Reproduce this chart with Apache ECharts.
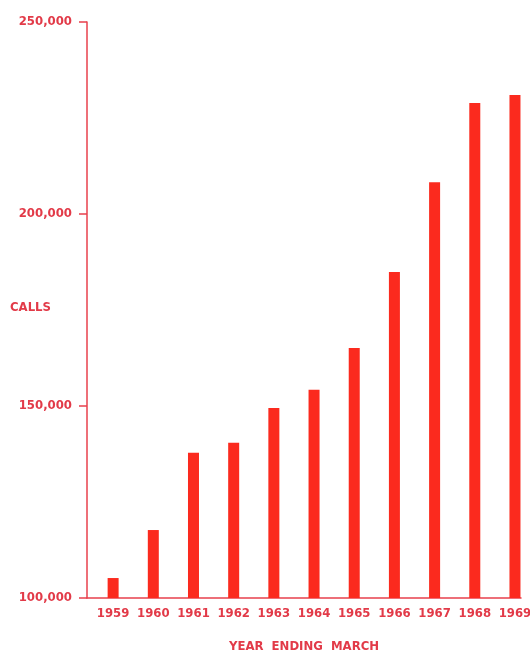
<!DOCTYPE html>
<html>
<head>
<meta charset="utf-8">
<script src="https://cdn.jsdelivr.net/npm/echarts@6/dist/echarts.min.js"></script>
<style>html,body{margin:0;padding:0;background:#fff}#c{width:530px;height:654px}</style>
</head>
<body>
<div id="c"></div>
<script>
var years = [1959,1960,1961,1962,1963,1964,1965,1966,1967,1968,1969];
var calls = [105200,117700,137800,140400,149500,154200,165100,184900,208300,228900,231000];
var yTicks = [100000,150000,200000,250000];

var textColor = '#e23a48';
var lineColor = '#e8404c';
var barColor = '#fb2a1e';
var font = 'DejaVu Sans Condensed';

var chart = echarts.init(document.getElementById('c'));
chart.setOption({
  animation: false,
  backgroundColor: '#ffffff',
  grid: { left: 87, right: 9, top: 22, bottom: 56, containLabel: false, outerBoundsMode: 'none' },
  graphic: [{
    type: 'text',
    left: 10,
    top: 301,
    style: { text: 'CALLS', fill: textColor, font: 'bold 13px "DejaVu Sans Condensed"' }
  }],
  xAxis: {
    type: 'value',
    min: 1958.35,
    max: 1969.15,
    name: 'YEAR  ENDING  MARCH',
    nameLocation: 'middle',
    nameGap: 42,
    nameTextStyle: { color: textColor, fontFamily: font, fontWeight: 'bold', fontSize: 13 },
    axisLine: { show: true, lineStyle: { color: lineColor, width: 1.5 } },
    axisTick: { show: false },
    splitLine: { show: false },
    axisLabel: {
      customValues: years,
      margin: 9,
      color: textColor, fontFamily: font, fontWeight: 'bold', fontSize: 13,
      formatter: function (v) { return String(v); }
    }
  },
  yAxis: {
    type: 'value',
    min: 100000,
    max: 250000,
    interval: 50000,
    axisLine: { show: true, lineStyle: { color: lineColor, width: 1.5 } },
    axisTick: { show: true, length: 8, lineStyle: { color: lineColor, width: 1.5 } },
    splitLine: { show: false },
    axisLabel: {
      margin: 15,
      color: textColor, fontFamily: font, fontWeight: 'bold', fontSize: 13,
      formatter: function (v) { return v.toLocaleString('en-US'); }
    }
  },
  series: [{
    type: 'bar',
    barWidth: 11,
    itemStyle: { color: barColor },
    data: years.map(function (y, i) { return [y, calls[i]]; })
  }]
});
</script>
</body>
</html>
